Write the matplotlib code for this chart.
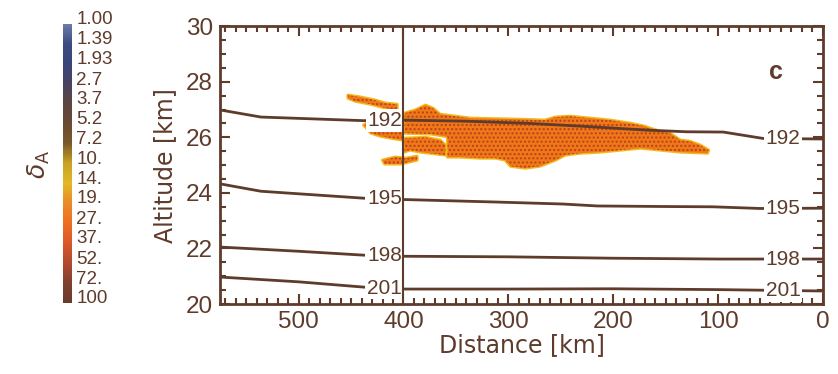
import matplotlib.pyplot as plt
import matplotlib.colors as mcolors
import matplotlib.cm as cm
import matplotlib.transforms as mtransforms
from matplotlib.patches import Polygon
from matplotlib.ticker import MultipleLocator, FixedLocator

plt.rcParams['font.family'] = ['Liberation Sans', 'DejaVu Sans']

BROWN = "#5e3b2b"

# colour scale of delta_A (log spaced labels, 1 at top, 100 at bottom)
da_ticks = [1.00, 1.39, 1.93, 2.7, 3.7, 5.2, 7.2, 10., 14., 19., 27., 37., 52., 72., 100]
da_labels = ["1.00", "1.39", "1.93", "2.7", "3.7", "5.2", "7.2", "10.", "14.",
             "19.", "27.", "37.", "52.", "72.", "100"]
da_colors = ["#6b7aa8", "#3c4a82", "#3a4578", "#4a4262", "#5e4640", "#6a4a34",
             "#7a5a2a", "#c8a224", "#e2b826", "#ea8a2a", "#ee6e22", "#d8582a",
             "#b24a30", "#80402e", "#6a3a2c"]

# contour lines: distance [km], altitude [km]
lines = {
    "192": ([574, 536, 438, 400, 340, 279, 230, 168, 130, 95, 57, 0],
            [26.98, 26.73, 26.60, 26.62, 26.58, 26.50, 26.40, 26.26, 26.20, 26.19, 25.96, 25.94]),
    "195": ([574, 536, 438, 398, 310, 248, 215, 150, 105, 60, 0],
            [24.32, 24.06, 23.81, 23.76, 23.67, 23.60, 23.53, 23.51, 23.50, 23.44, 23.45]),
    "198": ([574, 500, 438, 398, 300, 200, 100, 0],
            [22.05, 21.90, 21.76, 21.72, 21.70, 21.65, 21.62, 21.62]),
    "201": ([574, 500, 438, 398, 300, 200, 100, 0],
            [20.97, 20.80, 20.61, 20.54, 20.54, 20.55, 20.52, 20.47]),
}
label_left_km = 418
label_right_km = 38

# aerosol cloud outlines (distance [km], altitude [km])
cloud_main = [(399, 26.87), (389, 26.98), (379, 27.16), (372, 27.05), (365, 26.83),
              (336, 26.69), (289, 26.65), (265, 26.62), (255, 26.73), (241, 26.76),
              (222, 26.69), (203, 26.62), (184, 26.51), (170, 26.40), (165, 26.33),
              (155, 26.22), (146, 26.15), (136, 25.90), (127, 25.86), (117, 25.72),
              (109, 25.54), (110, 25.43), (136, 25.47), (155, 25.54), (174, 25.61),
              (193, 25.54), (212, 25.47), (231, 25.43), (246, 25.36), (255, 25.18),
              (270, 24.96), (284, 24.89), (298, 24.96), (303, 25.18), (312, 25.25),
              (327, 25.25), (346, 25.29), (358, 25.29), (358, 26.02), (374, 26.12),
              (399, 26.15)]
cloud_mid = [(399, 25.97), (379, 26.00), (365, 25.90), (360, 25.72), (360, 25.36),
             (384, 25.47), (394, 25.54), (399, 25.47)]
cloud_left = [(438, 26.44), (427, 26.69), (412, 26.76), (401, 26.87), (401, 25.90),
              (412, 25.97), (422, 26.04), (431, 26.15)]
cloud_top = [(453, 27.52), (441, 27.45), (427, 27.34), (417, 27.23), (406, 27.19),
             (406, 26.98), (417, 27.05), (431, 27.19), (446, 27.30), (453, 27.41)]
cloud_low = [(420, 25.18), (408, 25.29), (398, 25.25), (387, 25.32), (387, 25.18),
             (403, 25.04), (418, 25.04)]
clouds = [cloud_main, cloud_mid, cloud_left, cloud_top, cloud_low]

fig = plt.figure(figsize=(8.38, 3.74), dpi=100)

# ---- colour bar ----
cax = fig.add_axes([0.0752, 0.19, 0.0107, 0.746])
cmap = mcolors.LinearSegmentedColormap.from_list("da", da_colors)
sm = cm.ScalarMappable(norm=mcolors.LogNorm(1, 100), cmap=cmap)
cb = fig.colorbar(sm, cax=cax)
cb.outline.set_visible(False)
cax.invert_yaxis()
cax.yaxis.set_major_locator(FixedLocator(da_ticks))
cax.yaxis.set_minor_locator(FixedLocator([]))
cax.set_yticklabels(da_labels)
cax.tick_params(axis="y", length=0, pad=3, labelsize=13.5, labelcolor=BROWN)
shift = mtransforms.ScaledTranslation(0, 6 / 100, fig.dpi_scale_trans)
for t in cax.get_yticklabels():
    t.set_transform(t.get_transform() + shift)
fig.text(0.046, 0.56, r"$\delta_\mathrm{A}$", rotation=90, ha="center", va="center",
         fontsize=18, color=BROWN)

# ---- main panel ----
ax = fig.add_axes([0.2625, 0.187, 0.7195, 0.743])

for pts in clouds:
    ax.add_patch(Polygon(pts, closed=True, facecolor="none", edgecolor="#f2b81e",
                         linewidth=2.2, zorder=2, joinstyle="round"))
    ax.add_patch(Polygon(pts, closed=True, facecolor="#f07818", edgecolor="#b8421c",
                         hatch="....", linewidth=0, zorder=3))

for lev, (xs, ys) in lines.items():
    ax.plot(xs, ys, color=BROWN, linewidth=2, zorder=4, solid_capstyle="butt")
    for km in (label_left_km, label_right_km):
        # altitude along the line at the label position
        for i in range(len(xs) - 1):
            if xs[i] >= km >= xs[i + 1]:
                f = (xs[i] - km) / (xs[i] - xs[i + 1])
                yl = ys[i] + f * (ys[i + 1] - ys[i])
                break
        ax.text(km, yl, lev, ha="center", va="center", fontsize=15, color=BROWN,
                zorder=6, bbox=dict(boxstyle="square,pad=0.08", fc="white", ec="none"))

ax.axvline(400, color=BROWN, linewidth=1.5, zorder=7)

ax.text(45, 28.35, "c", fontsize=18, fontweight="bold", color=BROWN,
        ha="center", va="center")

ax.set_xlim(575, 0)
ax.set_ylim(20, 30)
ax.xaxis.set_major_locator(MultipleLocator(100))
ax.xaxis.set_minor_locator(MultipleLocator(10))
ax.yaxis.set_major_locator(MultipleLocator(2))
ax.yaxis.set_minor_locator(MultipleLocator(0.5))
ax.tick_params(which="both", direction="in", top=True, right=True, color=BROWN,
               labelcolor=BROWN, labelsize=17.5, width=1.5)
ax.tick_params(which="major", length=7, pad=5)
ax.tick_params(which="minor", length=4)
for sp in ax.spines.values():
    sp.set_color(BROWN)
    sp.set_linewidth(2)

ax.set_xlabel("Distance [km]", fontsize=17, color=BROWN, labelpad=0,
              family="DejaVu Sans")
ax.set_ylabel("Altitude [km]", fontsize=17, color=BROWN, labelpad=6,
              family="DejaVu Sans")

fig.savefig("out.png", dpi=100)
